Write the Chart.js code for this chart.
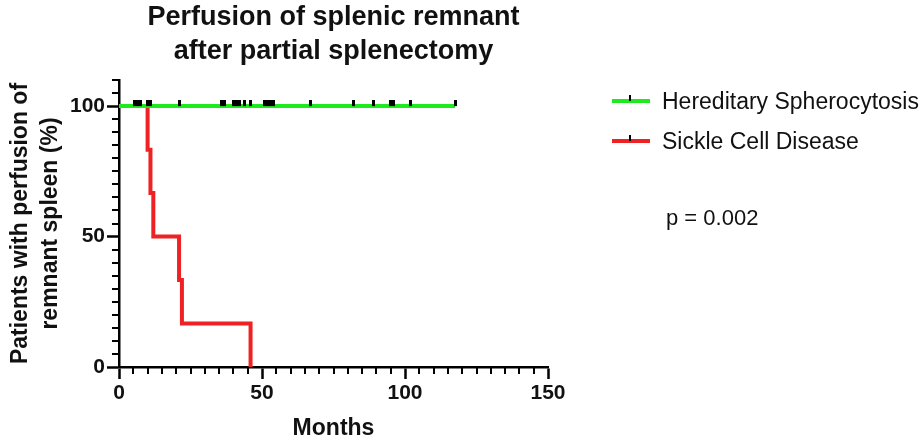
<!DOCTYPE html>
<html>
<head>
<meta charset="utf-8">
<script src="https://cdn.jsdelivr.net/npm/chart.js@4.4.0/dist/chart.umd.min.js"></script>
<style>
  body { margin: 0; background: #fff; font-family: "Liberation Sans", Arial, sans-serif; }
  #wrap { position: relative; width: 922px; height: 445px; }
  .key { position: absolute; left: 612px; height: 30px; display: flex; align-items: center; }
  .swatch { position: relative; width: 38px; height: 4px; margin-right: 12px; }
  .swatch i { position: absolute; left: 17px; top: -4px; width: 2px; height: 6px; background: #000; }
  .key span, #pval { font-size: 23px; color: #111; white-space: nowrap; }
  #pval { position: absolute; left: 666px; top: 205px; font-size: 22px; }
</style>
</head>
<body>
<div id="wrap">
  <canvas id="km" width="922" height="445"></canvas>
  <div class="key" style="top:86px"><div class="swatch" style="background:#1eeb1e"><i></i></div><span>Hereditary Spherocytosis</span></div>
  <div class="key" style="top:126px"><div class="swatch" style="background:#ee2222"><i></i></div><span>Sickle Cell Disease</span></div>
  <div id="pval">p = 0.002</div>
</div>
<script>
// Kaplan-Meier curves
const hsMonths = [0, 117.5];
const hsPercent = [100, 100];
// censored HS patients (tick marks on the green line)
const hsCensored = [5.5, 6.5, 7.5, 10, 11, 21, 36, 37, 40, 41, 42, 44, 46, 51, 52, 53, 54, 67, 82, 89, 95, 96, 102, 117.5];

const scdMonths = [0, 10, 11, 12, 21, 22, 46];
const scdPercent = [100, 83.3, 66.7, 50, 33.3, 16.7, 0];

const xTicks = [0, 50, 100, 150];
const yTicks = [0, 50, 100];

const green = '#1eeb1e';
const red = '#ee2222';

const toPoints = (xs, ys) => xs.map((x, i) => ({ x: x, y: ys[i] }));

// small vertical tick used for censored observations, sits on top of the line
const tick = document.createElement('canvas');
tick.width = 3;
tick.height = 12;
const tctx = tick.getContext('2d');
tctx.fillStyle = '#000';
tctx.fillRect(0, 0, 3, 6);

// minor ticks every 5 units on both axes
const minorTicks = {
  id: 'minorTicks',
  afterDraw(chart) {
    const { ctx, scales: { x, y } } = chart;
    ctx.save();
    ctx.strokeStyle = '#000';
    ctx.lineWidth = 2;
    ctx.beginPath();
    for (let v = 5; v <= 150; v += 5) {
      if (v % 50 === 0) continue;
      const px = Math.round(x.getPixelForValue(v));
      ctx.moveTo(px, y.bottom);
      ctx.lineTo(px, y.bottom + 7);
    }
    for (let v = 5; v <= 110; v += 5) {
      if (v % 50 === 0) continue;
      const py = Math.round(y.getPixelForValue(v));
      ctx.moveTo(x.left, py);
      ctx.lineTo(x.left - 7, py);
    }
    ctx.stroke();
    ctx.restore();
  }
};

const font = { family: '"Liberation Sans", Arial, sans-serif', weight: 'bold' };

new Chart(document.getElementById('km'), {
  type: 'line',
  data: {
    datasets: [
      {
        label: 'Censored',
        data: hsCensored.map(m => ({ x: m, y: 100 })),
        showLine: false,
        pointStyle: tick,
        pointRadius: 3
      },
      {
        label: 'Hereditary Spherocytosis',
        data: toPoints(hsMonths, hsPercent),
        borderColor: green,
        borderWidth: 4,
        pointRadius: 0,
        stepped: true
      },
      {
        label: 'Sickle Cell Disease',
        data: toPoints(scdMonths, scdPercent),
        borderColor: red,
        borderWidth: 4,
        pointRadius: 0,
        stepped: true
      }
    ]
  },
  options: {
    responsive: false,
    animation: false,
    layout: { padding: { left: 0, right: 374, top: 0, bottom: 0 } },
    plugins: {
      legend: { display: false },
      tooltip: { enabled: false },
      title: {
        display: true,
        fullSize: false,
        text: ['Perfusion of splenic remnant', 'after partial splenectomy'],
        color: '#111',
        font: { ...font, size: 27, lineHeight: 34 / 27 },
        padding: { top: 1, bottom: 11 }
      }
    },
    scales: {
      x: {
        type: 'linear',
        min: 0,
        max: 150,
        afterBuildTicks: axis => { axis.ticks = xTicks.map(v => ({ value: v })); },
        afterFit: axis => { axis.height = 445 - 367; },
        border: { display: true, color: '#000', width: 2.5 },
        grid: { drawOnChartArea: false, drawTicks: true, tickLength: 12, tickColor: '#000', tickWidth: 2.5 },
        ticks: { color: '#111', font: { ...font, size: 21 }, padding: 2, maxRotation: 0 },
        title: { display: true, text: 'Months', color: '#111', font: { ...font, size: 23 }, padding: { top: 0, bottom: 3 } }
      },
      y: {
        type: 'linear',
        min: 0,
        max: 110,
        afterBuildTicks: axis => { axis.ticks = yTicks.map(v => ({ value: v })); },
        afterFit: axis => { axis.width = 119; },
        border: { display: true, color: '#000', width: 2.5 },
        grid: { drawOnChartArea: false, drawTicks: true, tickLength: 12, tickColor: '#000', tickWidth: 2.5 },
        ticks: { color: '#111', font: { ...font, size: 21 }, padding: 2 },
        title: {
          display: true,
          text: ['Patients with perfusion of', 'remnant spleen (%)'],
          color: '#111',
          font: { ...font, size: 23, lineHeight: 1.28 },
          padding: { top: 6, bottom: 0 }
        }
      }
    }
  },
  plugins: [minorTicks]
});
</script>
</body>
</html>
